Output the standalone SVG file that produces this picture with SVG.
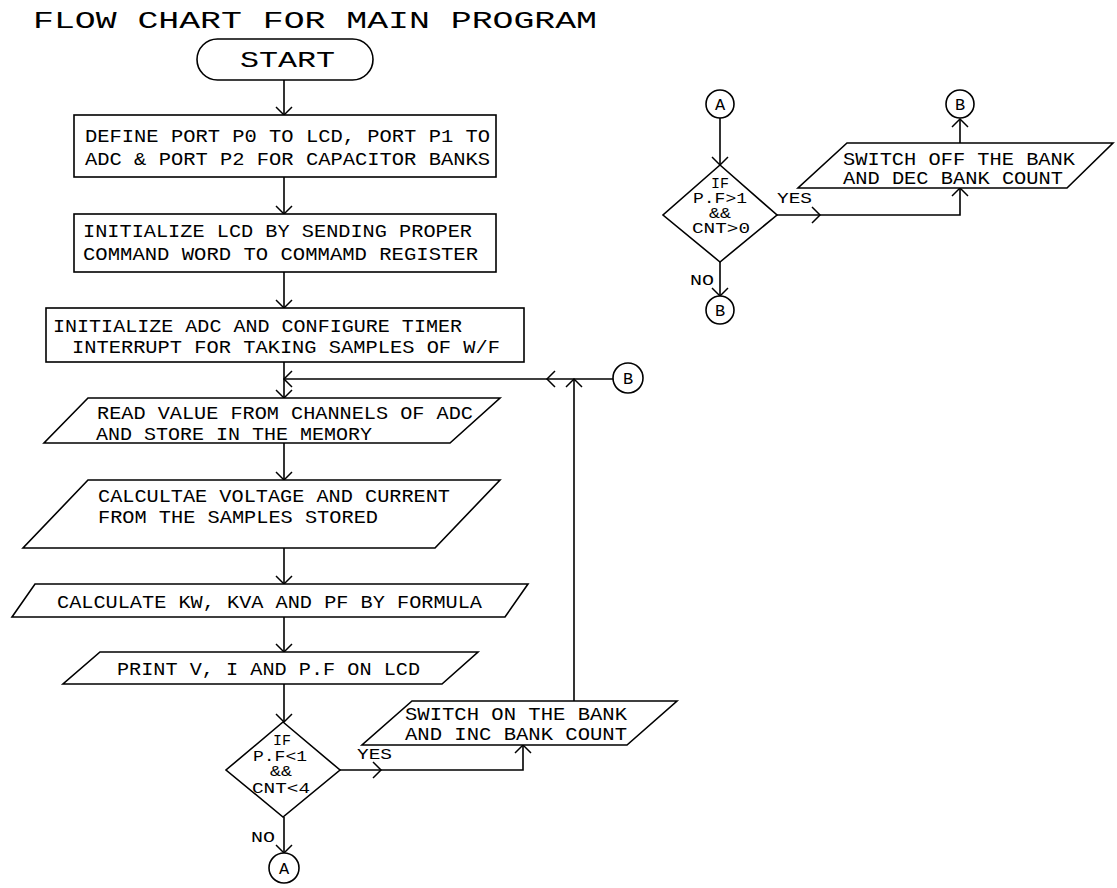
<svg xmlns="http://www.w3.org/2000/svg" width="1117" height="888" viewBox="0 0 1117 888">
<style>
.s{fill:#fff;stroke:#000;stroke-width:1.6}
.c{fill:none;stroke:#000;stroke-width:1.6}
text{font-family:"Liberation Mono","DejaVu Sans Mono",monospace;fill:#000}
.t{font-size:18px}
.d{font-size:15px}
.l{font-size:15px;text-anchor:middle}
.a{font-size:15px;text-anchor:middle}
.k{font-size:17px;text-anchor:middle}
</style>
<defs>
<marker id="ar" markerWidth="20" markerHeight="20" refX="10" refY="10" orient="auto" markerUnits="userSpaceOnUse" viewBox="0 0 20 20">
<path d="M2,2 L10,10 L2,18" fill="none" stroke="#000" stroke-width="1.5"/>
</marker>
</defs>
<rect width="1117" height="888" fill="#fff"/>
<text id="title" x="33" y="28" font-size="24" textLength="564" lengthAdjust="spacingAndGlyphs">FLOW CHART FOR MAIN PROGRAM</text>

<g id="connectors">
<path class="c" d="M284,80 V115" marker-end="url(#ar)"/>
<path class="c" d="M284,177 V214" marker-end="url(#ar)"/>
<path class="c" d="M284,272 V308" marker-end="url(#ar)"/>
<path class="c" d="M284,362 V398" marker-end="url(#ar)"/>
<path class="c" d="M613,379 H547" marker-end="url(#ar)"/>
<path class="c" d="M547,379 H284" marker-end="url(#ar)"/>
<path class="c" d="M574,701 V379" marker-end="url(#ar)"/>
<path class="c" d="M284,443 V480" marker-end="url(#ar)"/>
<path class="c" d="M284,548 V584" marker-end="url(#ar)"/>
<path class="c" d="M284,617 V652" marker-end="url(#ar)"/>
<path class="c" d="M284,684 V722" marker-end="url(#ar)"/>
<path class="c" d="M340,770 H381" marker-end="url(#ar)"/>
<path class="c" d="M381,770 H523 V745" marker-end="url(#ar)"/>
<path class="c" d="M284,817 V853" marker-end="url(#ar)"/>
<path class="c" d="M720,118 V165" marker-end="url(#ar)"/>
<path class="c" d="M777,215 H820" marker-end="url(#ar)"/>
<path class="c" d="M820,215 H960 V188" marker-end="url(#ar)"/>
<path class="c" d="M960,143 V119" marker-end="url(#ar)"/>
<path class="c" d="M720,262 V296" marker-end="url(#ar)"/>
</g>

<g id="start">
<rect class="s" x="197" y="39" width="176" height="41" rx="20.5"/>
<text x="240" y="67" font-size="22" textLength="95" lengthAdjust="spacingAndGlyphs">START</text>
</g>

<g id="define">
<rect class="s" x="74" y="115" width="422" height="62"/>
<text class="t" x="85" y="142" textLength="405" lengthAdjust="spacingAndGlyphs">DEFINE PORT P0 TO LCD, PORT P1 TO</text>
<text class="t" x="85" y="165" textLength="405" lengthAdjust="spacingAndGlyphs">ADC &amp; PORT P2 FOR CAPACITOR BANKS</text>
</g>

<g id="initlcd">
<rect class="s" x="74" y="214" width="422" height="58"/>
<text class="t" x="83" y="237" textLength="389" lengthAdjust="spacingAndGlyphs">INITIALIZE LCD BY SENDING PROPER</text>
<text class="t" x="83" y="260" textLength="395" lengthAdjust="spacingAndGlyphs">COMMAND WORD TO COMMAMD REGISTER</text>
</g>

<g id="initadc">
<rect class="s" x="46" y="308" width="478" height="54"/>
<text class="t" x="53" y="332" textLength="409" lengthAdjust="spacingAndGlyphs">INITIALIZE ADC AND CONFIGURE TIMER</text>
<text class="t" x="72" y="353" textLength="428" lengthAdjust="spacingAndGlyphs">INTERRUPT FOR TAKING SAMPLES OF W/F</text>
</g>

<g id="read">
<polygon class="s" points="88,398 500,398 450,443 44,443"/>
<text class="t" x="97" y="419" textLength="376" lengthAdjust="spacingAndGlyphs">READ VALUE FROM CHANNELS OF ADC</text>
<text class="t" x="96" y="440" textLength="276" lengthAdjust="spacingAndGlyphs">AND STORE IN THE MEMORY</text>
</g>

<g id="calcvi">
<polygon class="s" points="88,480 500,480 435,548 23,548"/>
<text class="t" x="98" y="502" textLength="352" lengthAdjust="spacingAndGlyphs">CALCULTAE VOLTAGE AND CURRENT</text>
<text class="t" x="98" y="523" textLength="280" lengthAdjust="spacingAndGlyphs">FROM THE SAMPLES STORED</text>
</g>

<g id="calckw">
<polygon class="s" points="35,584 528,584 505,617 12,617"/>
<text class="t" x="57" y="608" textLength="425" lengthAdjust="spacingAndGlyphs">CALCULATE KW, KVA AND PF BY FORMULA</text>
</g>

<g id="print">
<polygon class="s" points="100,652 478,652 442,684 63,684"/>
<text class="t" x="117" y="675" textLength="303" lengthAdjust="spacingAndGlyphs">PRINT V, I AND P.F ON LCD</text>
</g>

<g id="dec1">
<polygon class="s" points="283,722 340,770 283,817 226,770"/>
<text class="l" x="282" y="745">IF</text>
<text class="l" x="280" y="761" textLength="54" lengthAdjust="spacingAndGlyphs">P.F&lt;1</text>
<text class="a" x="281" y="776" textLength="22" lengthAdjust="spacingAndGlyphs">&amp;&amp;</text>
<text class="l" x="281" y="793" textLength="58" lengthAdjust="spacingAndGlyphs">CNT&lt;4</text>
<text class="d" x="357" y="759" textLength="35" lengthAdjust="spacingAndGlyphs">YES</text>
<text class="d" x="251" y="842" textLength="24" lengthAdjust="spacingAndGlyphs">NO</text>
</g>

<g id="switchon">
<polygon class="s" points="412,701 677,701 627,745 362,745"/>
<text class="t" x="405" y="720" textLength="222" lengthAdjust="spacingAndGlyphs">SWITCH ON THE BANK</text>
<text class="t" x="405" y="740" textLength="222" lengthAdjust="spacingAndGlyphs">AND INC BANK COUNT</text>
</g>

<g id="connA1">
<circle class="s" cx="284" cy="868" r="15"/>
<text class="k" x="284" y="874">A</text>
</g>

<g id="connB1">
<circle class="s" cx="628" cy="378" r="15"/>
<text class="k" x="628" y="384">B</text>
</g>

<g id="connA2">
<circle class="s" cx="720" cy="104" r="14"/>
<text class="k" x="720" y="110">A</text>
</g>

<g id="dec2">
<polygon class="s" points="720,165 777,215 720,262 663,215"/>
<text class="l" x="720" y="188">IF</text>
<text class="l" x="720" y="203" textLength="54" lengthAdjust="spacingAndGlyphs">P.F&gt;1</text>
<text class="a" x="720" y="218" textLength="22" lengthAdjust="spacingAndGlyphs">&amp;&amp;</text>
<text class="l" x="721" y="233" textLength="58" lengthAdjust="spacingAndGlyphs">CNT&gt;0</text>
<text class="d" x="777" y="203" textLength="35" lengthAdjust="spacingAndGlyphs">YES</text>
<text class="d" x="690" y="285" textLength="24" lengthAdjust="spacingAndGlyphs">NO</text>
</g>

<g id="switchoff">
<polygon class="s" points="847,143 1113,143 1067,188 798,188"/>
<text class="t" x="843" y="165" textLength="232" lengthAdjust="spacingAndGlyphs">SWITCH OFF THE BANK</text>
<text class="t" x="843" y="184" textLength="220" lengthAdjust="spacingAndGlyphs">AND DEC BANK COUNT</text>
</g>

<g id="connB2">
<circle class="s" cx="960" cy="104" r="14"/>
<text class="k" x="960" y="110">B</text>
</g>

<g id="connB3">
<circle class="s" cx="720" cy="310" r="14"/>
<text class="k" x="720" y="316">B</text>
</g>
</svg>
